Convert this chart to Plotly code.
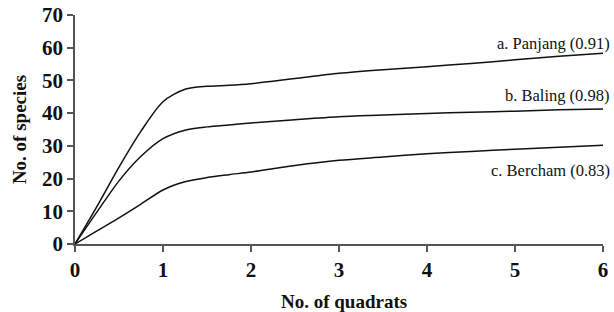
import plotly.graph_objects as go

quadrats = [0, 0.25, 0.5, 0.75, 1.0, 1.25, 1.5, 1.75, 2, 2.5, 3, 3.5, 4, 4.5, 5, 5.5, 6]
panjang = [0, 11.5, 23.5, 34.5, 43.5, 47.3, 48.2, 48.5, 49.0, 50.6, 52.2, 53.3, 54.2, 55.2, 56.3, 57.4, 58.3]
baling = [0, 9.8, 19.3, 26.8, 32.2, 34.8, 35.8, 36.4, 37.0, 38.0, 38.9, 39.4, 39.9, 40.3, 40.6, 41.0, 41.3]
bercham = [0, 4.0, 8.0, 12.2, 16.5, 19.0, 20.3, 21.2, 22.0, 24.0, 25.6, 26.6, 27.6, 28.3, 29.0, 29.6, 30.2]
labels = ["a. Panjang (0.91)", "b. Baling (0.98)", "c. Bercham (0.83)"]
label_y = [61.4, 45.5, 22.5]

font = "Liberation Serif, Times New Roman, serif"
fig = go.Figure()
for ys in (panjang, baling, bercham):
    fig.add_trace(go.Scatter(x=quadrats, y=ys, mode="lines",
                             line=dict(color="#111111", width=1.5, shape="spline", smoothing=0.8),
                             showlegend=False, hoverinfo="skip"))

for t, y in zip(labels, label_y):
    fig.add_annotation(x=1.017, xref="paper", y=y, yref="y", text=t, showarrow=False,
                       xanchor="right", yanchor="middle",
                       font=dict(family=font, size=16.5, color="#111111"))

fig.add_annotation(x=0.51, xref="paper", y=-0.25, yref="paper", text="<b>No. of quadrats</b>",
                   showarrow=False, xanchor="center", yanchor="middle",
                   font=dict(family=font, size=19, color="#111111"))

fig.update_layout(
    width=614, height=312,
    margin=dict(l=75, r=11, t=15, b=68, autoexpand=False),
    paper_bgcolor="white", plot_bgcolor="white",
    font=dict(family=font, color="#111111"),
)
fig.update_xaxes(range=[0, 6], tickvals=[0, 1, 2, 3, 4, 5, 6], showgrid=False, zeroline=False,
                 showline=True, linecolor="#555555", linewidth=1.5, automargin=False,
                 ticks="outside", ticklen=6, tickcolor="#555555", tickwidth=1.5,
                 ticklabeloverflow="allow",
                 tickfont=dict(family=font, size=21, color="#111111", weight="bold"))
fig.update_yaxes(range=[0, 70], tickvals=[0, 10, 20, 30, 40, 50, 60, 70], showgrid=False, zeroline=False,
                 showline=True, linecolor="#555555", linewidth=1.5, automargin=False,
                 ticks="outside", ticklen=6, tickcolor="#555555", tickwidth=1.5,
                 ticklabeloverflow="allow",
                 tickfont=dict(family=font, size=21, color="#111111", weight="bold"),
                 title=dict(text="<b>No. of species</b>", font=dict(family=font, size=19), standoff=10))
fig.write_html("out.html", config={"displayModeBar": False},
               post_script="document.body.style.margin='0';")
